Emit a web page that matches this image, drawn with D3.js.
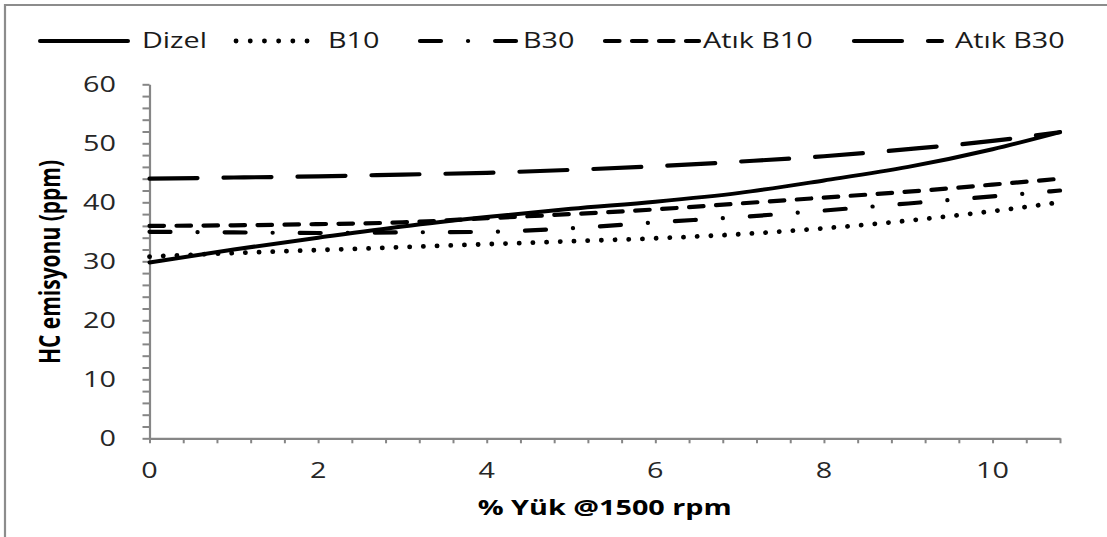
<!DOCTYPE html>
<html>
<head>
<meta charset="utf-8">
<script src="https://cdn.jsdelivr.net/npm/d3@7"></script>
<style>
  html, body { margin: 0; padding: 0; background: #fff; }
  svg { display: block; }
</style>
</head>
<body>
<svg id="chart" width="1107" height="537"></svg>
<script>
// ---------------- DATA ----------------
const xValues = [0, 1, 2, 3, 4, 5, 6, 7, 8, 9, 10, 10.8];
const dizel   = [29.8, 32.0, 34.0, 35.9, 37.5, 38.9, 40.1, 41.6, 43.7, 46.0, 49.0, 51.9];
const b10     = [30.8, 31.4, 31.9, 32.4, 32.9, 33.4, 33.9, 34.6, 35.6, 36.9, 38.5, 40.0];
const b30     = [35.0, 34.9, 34.8, 34.9, 35.0, 35.6, 36.6, 37.5, 38.6, 39.8, 41.0, 42.0];
const atikB10 = [36.0, 36.1, 36.3, 36.6, 37.3, 38.0, 38.8, 39.8, 40.8, 41.8, 43.0, 44.0];
const atikB30 = [44.0, 44.2, 44.4, 44.7, 45.0, 45.5, 46.1, 46.9, 47.8, 49.0, 50.4, 51.9];
const seriesNames = ["Dizel", "B10", "B30", "Atık B10", "Atık B30"];
const yTickLabels = [0, 10, 20, 30, 40, 50, 60];
const xTickLabels = [0, 2, 4, 6, 8, 10];
const xTitle = "% Yük @1500 rpm";
const yTitle = "HC emisyonu (ppm)";

// ---------------- LAYOUT ----------------
const W = 1107, H = 537;
const SX = 1.37;                 // horizontal stretch of the original picture
const FONT = "'Open Sans', 'DejaVu Sans', sans-serif";
const axisColor = "#868686";
const plot = { left: 149.5, right: 1060, top: 84.3, bottom: 438.3 };

const svg = d3.select("#chart");

const x = d3.scaleLinear().domain([0, 10.8]).range([plot.left, plot.right]);
const y = d3.scaleLinear().domain([0, 60]).range([plot.bottom, plot.top]);

// outer border (partially visible frame)
svg.append("path")
  .attr("d", `M5,${H} V5 H${W}`)
  .attr("fill", "none").attr("stroke", "#8c8c8c").attr("stroke-width", 2.2);

function stretchedText(g, tx, ty, str, opts) {
  return g.append("text")
    .attr("transform", `translate(${tx},${ty}) scale(${SX},1)` + (opts.rotate ? ` rotate(${opts.rotate})` : ""))
    .attr("font-family", FONT)
    .attr("font-size", opts.size || 21)
    .attr("font-weight", opts.weight || "normal")
    .attr("fill", opts.fill || "#262626")
    .attr("text-anchor", opts.anchor || "start")
    .text(str);
}

// ---------------- AXES ----------------
const yTicks = d3.range(0, 61, 2);
const yAxis = d3.axisLeft(y).tickValues(yTicks).tickSize(7).tickSizeOuter(0).tickFormat("");
const gy = svg.append("g").attr("transform", `translate(${plot.left},0)`).call(yAxis);

const xTicks = d3.range(28).map(i => +(i * 0.4).toFixed(1));
const xAxis = d3.axisBottom(x).tickValues(xTicks).tickSize(5).tickSizeOuter(0).tickFormat("");
const gx = svg.append("g").attr("transform", `translate(0,${plot.bottom})`).call(xAxis);

[gx, gy].forEach(g => {
  g.select(".domain").attr("stroke", axisColor).attr("stroke-width", 2.2);
  g.selectAll(".tick line").attr("stroke", axisColor).attr("stroke-width", 2);
});

// tick labels (stretched text)
const labels = svg.append("g");
yTickLabels.forEach(v => stretchedText(labels, 116, y(v) + 8, String(v), { anchor: "end", size: 21 }));
xTickLabels.forEach(v => stretchedText(labels, x(v), 478, String(v), { anchor: "middle", size: 21 }));

// axis titles
stretchedText(svg, 60, 262, yTitle, { anchor: "middle", size: 21, weight: "bold", fill: "#000", rotate: -90 });
stretchedText(svg, (plot.left + plot.right) / 2, 515, xTitle, { anchor: "middle", size: 21, weight: "bold", fill: "#000" });

// ---------------- SERIES ----------------
const styles = [
  { dash: null,                 width: 4.0 },   // Dizel solid
  { dash: "0.1 13.6",           width: 4.8 },   // B10 round dot
  { dash: "21 27 0.1 27",       width: 4.2 },   // B30 long dash dot
  { dash: "14.5 12.5",          width: 4.2 },   // Atık B10 dash
  { dash: "48 26",              width: 4.2 }    // Atık B30 long dash
];
const allSeries = [dizel, b10, b30, atikB10, atikB30];

const line = d3.line()
  .x(d => x(d[0])).y(d => y(d[1]))
  .curve(d3.curveMonotoneX);

const gLines = svg.append("g");
allSeries.map((vals, i) => ({ vals, i })).reverse().forEach(({ vals, i }) => {
  gLines.append("path")
    .datum(xValues.map((xv, k) => [xv, vals[k]]))
    .attr("d", line)
    .attr("fill", "none")
    .attr("stroke", "#000")
    .attr("stroke-width", styles[i].width)
    .attr("stroke-linecap", "round")
    .attr("stroke-linejoin", "round")
    .attr("stroke-dasharray", styles[i].dash);
});

// ---------------- LEGEND ----------------
const legendTextX = [142, 328, 523, 703, 955];
const legendLineX = [[40, 128], [236, 320], [420, 516], [605, 699], [854, 942]];
const legendY = 41;
const gLeg = svg.append("g");
seriesNames.forEach((name, i) => {
  gLeg.append("line")
    .attr("x1", legendLineX[i][0]).attr("x2", legendLineX[i][1])
    .attr("y1", legendY).attr("y2", legendY)
    .attr("stroke", "#000").attr("stroke-width", styles[i].width)
    .attr("stroke-linecap", "round")
    .attr("stroke-dasharray", i === 1 ? "0.1 14.1" : styles[i].dash);
  stretchedText(gLeg, legendTextX[i], legendY + 6.5, name, { size: 21, fill: "#1a1a1a" });
});
</script>
</body>
</html>
